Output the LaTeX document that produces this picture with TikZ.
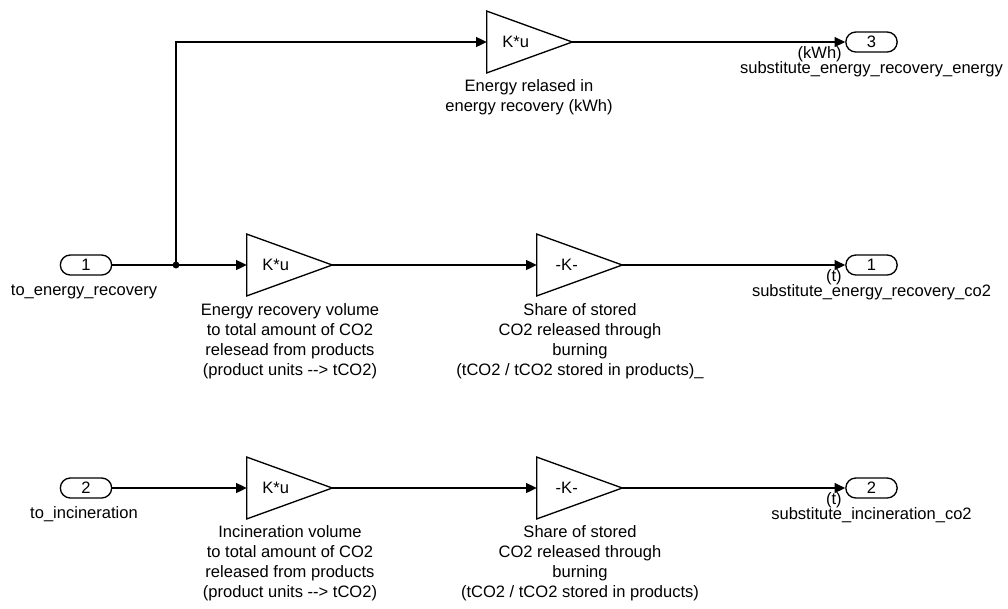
\documentclass[tikz,border=0pt]{standalone}
\usepackage{fontspec}
\setmainfont{Liberation Sans}
\usetikzlibrary{arrows.meta}
\tikzset{
  x=0.75pt, y=-0.75pt,
  every node/.style={font=\fontsize{12.4}{15}\selectfont, inner sep=0pt},
  gainbox/.style={minimum width=63.75pt, minimum height=46pt, draw=none},
  gainline/.style={line width=1pt, line join=miter},
  port/.style={draw, line width=1pt, rounded corners=7.5pt, minimum width=38.5pt, minimum height=15pt},
  sig/.style={line width=1pt, -{Triangle[length=8pt,width=7.5pt]}},
  desc/.style={align=center},
}
\begin{document}
\begin{tikzpicture}
\useasboundingbox (0,0) rectangle (1008,608);
% ports
\node[port] (in1) at (86,265) {1};
\node[port] (in2) at (86,488) {2};
\node[port] (out3) at (871.5,42) {3};
\node[port] (out1) at (871.5,265) {1};
\node[port] (out2) at (871.5,488) {2};
\node (in1l) at (84,292) {to\_energy\_recovery};
\node (in2l) at (84,514) {to\_incineration};
\node (out3l) at (871.5,69) {substitute\_energy\_recovery\_energy};
\node (out1l) at (871.5,292) {substitute\_energy\_recovery\_co2};
\node (out2l) at (871.5,515) {substitute\_incineration\_co2};
\node[anchor=east] (out3u) at (842,54) {(kWh)};
\node[anchor=east] (out1u) at (842,277) {(t)};
\node[anchor=east] (out2u) at (842,500) {(t)};
% gains
\node[gainbox] (g0) at (529.5,42) {};
\node[gainbox] (g1) at (289.5,265) {};
\node[gainbox] (g2) at (579.5,265) {};
\node[gainbox] (g3) at (289.5,488) {};
\node[gainbox] (g4) at (579.5,488) {};
\foreach \g in {g0,g1,g2,g3,g4}{
  \draw[gainline] (\g.north west) -- (\g.east) -- (\g.south west) -- cycle;
}
\node (g0t) at ([xshift=21.75pt]g0.west) {K*u};
\node (g1t) at ([xshift=21.75pt]g1.west) {K*u};
\node (g2t) at ([xshift=22.5pt]g2.west) {-K-};
\node (g3t) at ([xshift=21.75pt]g3.west) {K*u};
\node (g4t) at ([xshift=22.5pt]g4.west) {-K-};
\node[desc] (g0l) at (529,97.5) {Energy relased in\\energy recovery (kWh)};
\node[desc] (g1l) at (290,341.5) {Energy recovery volume\\to total amount of CO2\\relesead from products\\(product units {-}{-}> tCO2)};
\node[desc] (g2l) at (580,341.5) {Share of stored\\CO2 released through\\burning\\(tCO2 / tCO2 stored in products)\_};
\node[desc] (g3l) at (290,563) {Incineration volume\\to total amount of CO2\\released from products\\(product units {-}{-}> tCO2)};
\node[desc] (g4l) at (580,563) {Share of stored\\CO2 released through\\burning\\(tCO2 / tCO2 stored in products)};
% signals
\coordinate (j) at (176,265);
\draw[sig] (in1) -- (g1);
\draw[sig] (j) |- (g0.west);
\fill (j) circle (2.6pt);
\draw[sig] (g0.east) -- (out3);
\draw[sig] (g1.east) -- (g2);
\draw[sig] (g2.east) -- (out1);
\draw[sig] (in2) -- (g3);
\draw[sig] (g3.east) -- (g4);
\draw[sig] (g4.east) -- (out2);
\end{tikzpicture}
\end{document}
